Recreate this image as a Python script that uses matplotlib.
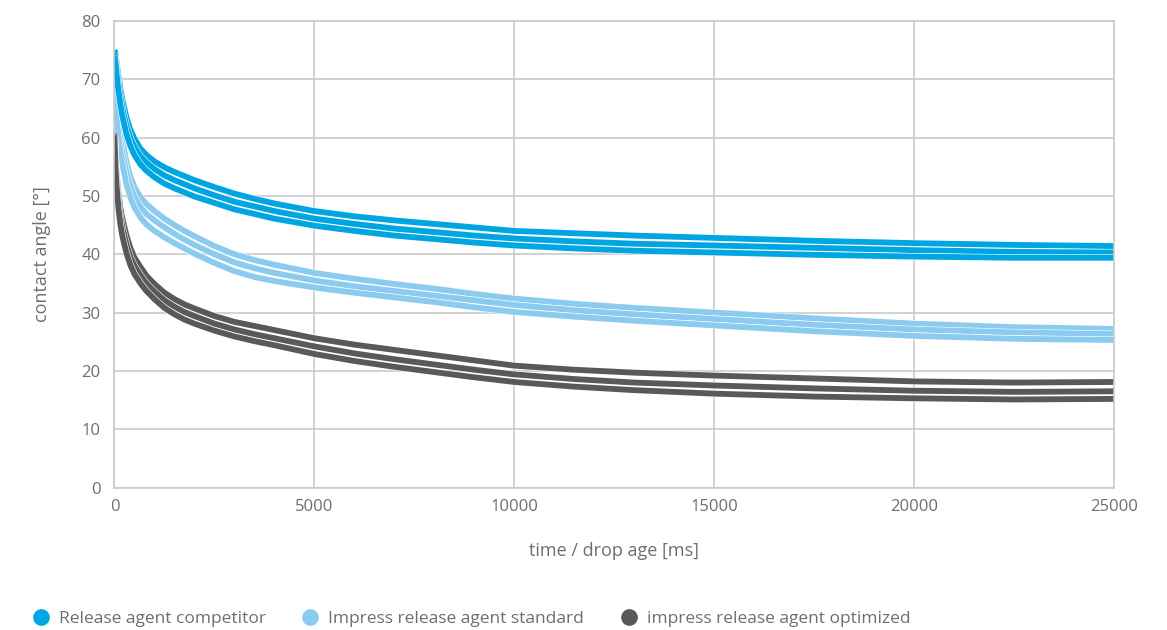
#!/usr/bin/env python
# coding: utf-8

import matplotlib
matplotlib.use("Agg")
import matplotlib.pyplot as plt
import matplotlib.patheffects as pe
from matplotlib.lines import Line2D

# drop age in ms
time_ms = [0, 25, 50, 100, 150, 200, 300, 400, 500, 650, 800, 1000, 1250,
           1500, 1750, 2000, 2500, 3000, 3500, 4000, 5000, 6000, 7000, 8000,
           9000, 10000, 11500, 13000, 15000, 17500, 20000, 22500, 25000]

# Release agent competitor (three measurements)
competitor_1 = [75, 74.5, 73, 70.5, 68.3, 66.4, 63.4, 61.3, 59.8, 58.1, 57.0,
                55.9, 54.9, 54.1, 53.4, 52.7, 51.5, 50.4, 49.5, 48.7, 47.4,
                46.5, 45.8, 45.2, 44.6, 44.0, 43.6, 43.2, 42.8, 42.3, 41.9,
                41.6, 41.4]
competitor_2 = [74.5, 73.5, 72, 69.3, 67, 65, 62, 59.9, 58.4, 56.8, 55.7,
                54.6, 53.5, 52.7, 52.0, 51.3, 50.1, 49.0, 48.2, 47.4, 46.1,
                45.2, 44.4, 43.8, 43.2, 42.7, 42.2, 41.8, 41.5, 41.1, 40.7,
                40.4, 40.3]
competitor_3 = [74, 73, 71, 68, 65.6, 63.6, 60.6, 58.5, 57.0, 55.4, 54.3,
                53.2, 52.1, 51.3, 50.6, 49.9, 48.8, 47.7, 46.9, 46.1, 44.9,
                44.0, 43.2, 42.6, 42.0, 41.5, 41.0, 40.6, 40.3, 39.9, 39.6,
                39.4, 39.4]

# Impress release agent standard
standard_1 = [70, 68.5, 67, 64, 61.5, 59.3, 55.8, 53.3, 51.5, 49.8, 48.6,
              47.4, 46.1, 45.0, 44.0, 43.1, 41.4, 40.0, 39.0, 38.2, 36.8,
              35.8, 34.9, 34.1, 33.2, 32.4, 31.5, 30.8, 30.0, 29.0, 28.1,
              27.5, 27.2]
standard_2 = [68.5, 67, 65.3, 62.2, 59.6, 57.4, 54.0, 51.6, 49.8, 48.1, 46.9,
              45.8, 44.6, 43.5, 42.5, 41.6, 40.0, 38.6, 37.6, 36.8, 35.5,
              34.5, 33.7, 32.9, 32.1, 31.3, 30.4, 29.7, 28.9, 27.9, 27.1,
              26.6, 26.3]
standard_3 = [67, 65.5, 63.5, 60.3, 57.6, 55.4, 52.0, 49.7, 48.0, 46.3, 45.1,
              44.0, 42.9, 41.9, 41.0, 40.1, 38.5, 37.1, 36.1, 35.4, 34.3,
              33.4, 32.6, 31.8, 30.9, 30.1, 29.3, 28.6, 27.8, 26.8, 26.0,
              25.5, 25.3]

# impress release agent optimized
optimized_1 = [60.7, 57, 54, 50.3, 47.8, 46.0, 43.2, 41.0, 39.4, 37.8, 36.3,
               34.9, 33.4, 32.3, 31.4, 30.7, 29.4, 28.4, 27.7, 27.0, 25.6,
               24.5, 23.6, 22.7, 21.8, 20.9, 20.2, 19.7, 19.2, 18.7, 18.2,
               18.0, 18.1]
optimized_2 = [60.5, 56, 53, 49, 46.4, 44.5, 41.7, 39.5, 38.0, 36.4, 35.0,
               33.6, 32.1, 31.0, 30.1, 29.4, 28.1, 27.1, 26.3, 25.6, 24.2,
               23.0, 22.0, 21.1, 20.2, 19.4, 18.6, 18.0, 17.5, 17.0, 16.6,
               16.4, 16.5]
optimized_3 = [60.3, 55, 52, 47.8, 45, 43, 40.2, 38.1, 36.6, 35.0, 33.7,
               32.3, 30.8, 29.7, 28.8, 28.1, 26.9, 25.9, 25.1, 24.4, 22.9,
               21.7, 20.7, 19.8, 18.9, 18.1, 17.3, 16.7, 16.1, 15.6, 15.3,
               15.1, 15.2]

series_names = ["Release agent competitor", "Impress release agent standard",
                "impress release agent optimized"]
series_colors = ["#00a6e2", "#8ccbf0", "#58595b"]

x_ticks = [0, 5000, 10000, 15000, 20000, 25000]
y_ticks = [0, 10, 20, 30, 40, 50, 60, 70, 80]

TEXT_COLOR = "#6d6e70"
GRID_COLOR = "#cbcbcd"

plt.rcParams['font.family'] = ['Open Sans', 'DejaVu Sans']


def draw_group(ax, curves, color):
    # thin white outline separates the overlapping lines of one group
    for curve in curves:
        ax.plot(time_ms, curve, color=color, lw=4.2, solid_capstyle='butt',
                solid_joinstyle='round',
                path_effects=[pe.Stroke(linewidth=5.0, foreground='white'),
                              pe.Normal()])


def main():
    fig = plt.figure(figsize=(11.67, 6.30), dpi=100)
    ax = fig.add_axes([0.0981, 0.2261, 0.8565, 0.7407])

    draw_group(ax, [standard_1, standard_2, standard_3], series_colors[1])
    draw_group(ax, [competitor_1, competitor_2, competitor_3], series_colors[0])
    draw_group(ax, [optimized_1, optimized_2, optimized_3], series_colors[2])

    ax.set_xlim(0, 25000)
    ax.set_ylim(0, 80)
    ax.set_xticks(x_ticks)
    ax.set_yticks(y_ticks)
    ax.grid(True, color=GRID_COLOR, lw=1.2)
    ax.set_axisbelow(True)
    for spine in ax.spines.values():
        spine.set_color(GRID_COLOR)
        spine.set_linewidth(1.2)
    ax.tick_params(length=0, labelsize=12, labelcolor=TEXT_COLOR)
    ax.tick_params(axis='x', pad=8)
    ax.tick_params(axis='y', pad=10)

    ax.set_xlabel("time / drop age [ms]", fontsize=13, color=TEXT_COLOR,
                  labelpad=20)
    ax.set_ylabel("contact angle [°]", fontsize=13, color=TEXT_COLOR,
                  labelpad=22)

    handles = [Line2D([], [], ls='none', marker='o', markersize=11,
                      color=c) for c in series_colors]
    fig.legend(handles, series_names, loc='center left',
               bbox_to_anchor=(0.0140, 0.0175), ncol=3, frameon=False,
               fontsize=12.5, labelcolor=TEXT_COLOR, handletextpad=0.55,
               columnspacing=2.05, handlelength=1.0)

    fig.savefig("out.png", dpi=100)


if __name__ == "__main__":
    main()
